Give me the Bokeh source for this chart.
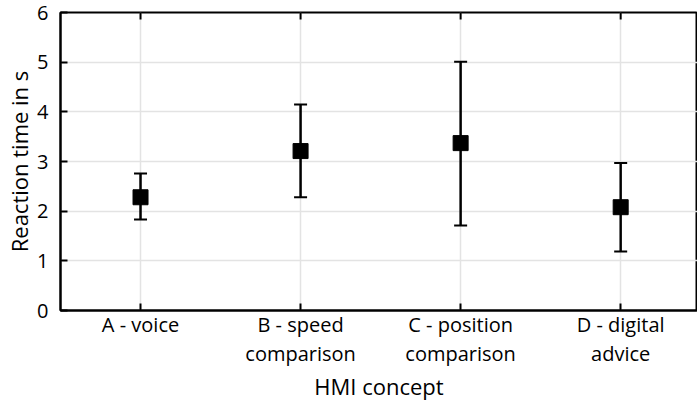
import math
from bokeh.plotting import figure
from bokeh.models import Range1d, FixedTicker, Whisker, ColumnDataSource
from bokeh.embed import file_html
from bokeh.resources import INLINE

concepts = ["A - voice", "B - speed\ncomparison", "C - position\ncomparison", "D - digital\nadvice"]
positions = [1, 2, 3, 4]
means = [2.28, 3.21, 3.37, 2.08]
upper = [2.76, 4.15, 5.01, 2.97]
lower = [1.83, 2.28, 1.71, 1.19]
y_ticks = [0, 1, 2, 3, 4, 5, 6]

FONT = "Open Sans"
Y_MAX = y_ticks[-1]

src = ColumnDataSource(dict(x=positions, m=means, up=upper, lo=lower))

p = figure(width=697, height=404, output_backend="svg", toolbar_location=None,
           x_range=Range1d(0.5, 4.48), y_range=Range1d(0, Y_MAX),
           min_border_left=60, min_border_top=12, min_border_bottom=94, min_border_right=0)
p.background_fill_color = "white"
p.border_fill_color = "white"
p.outline_line_color = "black"
p.outline_line_width = 2

p.xgrid.grid_line_color = "#e3e3e3"
p.ygrid.grid_line_color = "#e3e3e3"
p.xgrid.grid_line_width = 1.5
p.ygrid.grid_line_width = 1.5

xa = p.xaxis[0]
xa.ticker = FixedTicker(ticks=positions)
xa.major_label_overrides = {pos: lab for pos, lab in zip(positions, concepts)}
xa.axis_label = "HMI concept"
ya = p.yaxis[0]
ya.ticker = FixedTicker(ticks=y_ticks)
ya.axis_label = "Reaction time in s"
for ax in (xa, ya):
    ax.axis_line_width = 2
    ax.axis_line_color = "black"
    ax.major_tick_line_width = 2
    ax.major_tick_in = 7
    ax.major_tick_out = 0
    ax.minor_tick_line_color = None
    ax.major_label_text_font = FONT
    ax.major_label_text_font_size = "20px"
    ax.major_label_text_color = "black"
    ax.axis_label_text_font = FONT
    ax.axis_label_text_font_size = "22px"
    ax.axis_label_text_font_style = "normal"
    ax.axis_label_text_color = "black"
xa.major_label_text_line_height = 1.1
xa.major_label_standoff = 0
xa.axis_label_standoff = 1
ya.major_label_standoff = 12
ya.axis_label_standoff = 0

# inward tick marks along the top edge (mirrored x ticks), clipped to the frame
p.scatter(x=positions, y=[Y_MAX] * len(positions), marker="dash", angle=math.pi / 2,
          size=14, line_color="black", line_width=2)

p.add_layout(Whisker(source=src, base="x", upper="up", lower="lo",
                     line_color="black", line_width=2,
                     upper_head=None, lower_head=None))
w = Whisker(source=src, base="x", upper="up", lower="lo", line_color="black", line_width=2)
w.upper_head.size = 13
w.lower_head.size = 13
w.upper_head.line_width = 2
w.lower_head.line_width = 2
p.add_layout(w)

p.scatter("x", "m", source=src, marker="square", size=15, fill_color="black", line_color="black")

open("out.html", "w").write(file_html(p, INLINE))
